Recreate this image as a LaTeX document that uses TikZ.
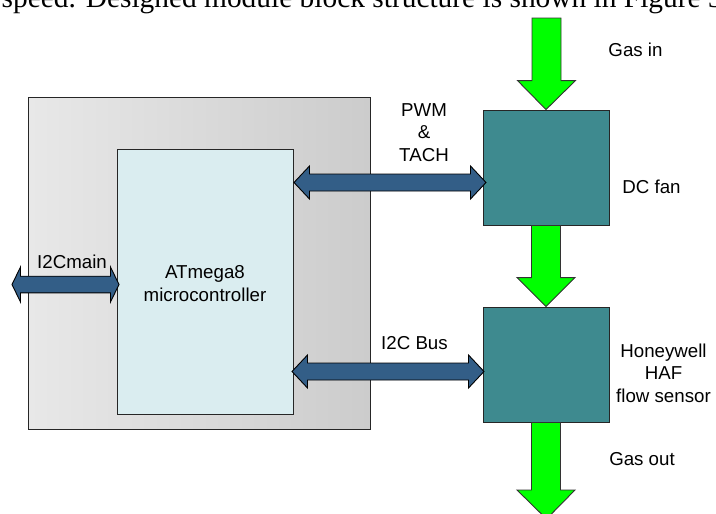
\documentclass[tikz,border=0pt]{standalone}
\usepackage{fontspec}
\setmainfont{Liberation Serif}
\newfontfamily\labelfont{Liberation Sans}
\usetikzlibrary{calc}
\definecolor{modgrayL}{RGB}{232,232,232}
\definecolor{modgrayR}{RGB}{204,204,204}
\definecolor{mcufill}{RGB}{218,237,240}
\definecolor{tealfill}{RGB}{62,138,143}
\definecolor{busblue}{RGB}{51,94,135}
\definecolor{gasgreen}{RGB}{0,255,0}
\tikzset{
  box/.style={draw=black!85, line width=0.9pt, inner sep=0pt, minimum width=#1},
  lbl/.style={font=\labelfont\fontsize{18.7}{22.5}\selectfont, align=center, inner sep=0pt},
  busarrow/.style={draw=black, line width=0.9pt, fill=busblue, line join=miter},
  gasarrow/.style={draw=black!80, line width=0.9pt, fill=gasgreen, line join=miter},
}
% double block arrow: #1 left tip, #2 right tip, #3 head length, #4 half head, #5 half shaft
\newcommand{\dblblock}[5]{%
  \draw[busarrow] let \p1=(#1), \p2=(#2) in
    (\x1,\y1) -- (\x1+#3,\y1+#4) -- (\x1+#3,\y1+#5) -- (\x2-#3,\y2+#5) -- (\x2-#3,\y2+#4)
    -- (\x2,\y2) -- (\x2-#3,\y2-#4) -- (\x2-#3,\y2-#5) -- (\x1+#3,\y1-#5) -- (\x1+#3,\y1-#4) -- cycle;}
% down block arrow: #1 shaft top centre, #2 tip
\newcommand{\downblock}[2]{%
  \draw[gasarrow] let \p1=(#1), \p2=(#2) in
    (\x1-14.5pt,\y1) -- (\x1+14.5pt,\y1) -- (\x1+14.5pt,\y2+29pt) -- (\x1+29pt,\y2+29pt)
    -- (\x2,\y2) -- (\x1-29pt,\y2+29pt) -- (\x1-14.5pt,\y2+29pt) -- cycle;}
\begin{document}
\begin{tikzpicture}[x=1pt,y=-1pt]
\useasboundingbox (0,0) rectangle (716,514);
\clip (0,0) rectangle (716,514);

\node[anchor=base west, inner sep=0pt, font=\fontsize{29.4}{32}\selectfont] (caption) at (1.5,7.5)
  {speed. Designed module block structure is shown in Figure 3};

% blocks
\node[box=342pt, minimum height=332pt, left color=modgrayL, right color=modgrayR] (module) at (199,263) {};
\node[box=176pt, minimum height=265pt, fill=mcufill] (mcu) at (205,281.5) {};
\node[box=126pt, minimum height=115pt, fill=tealfill] (fan) at (546,167.5) {};
\node[box=126pt, minimum height=115pt, fill=tealfill] (sensor) at (546,364.5) {};

\node[lbl] (mcutext) at (205,283.5) {ATmega8\\microcontroller};

% gas flow
\coordinate (gasintop) at (546.5,18);
\coordinate (gasouttip) at (546.5,519);
\downblock{gasintop}{fan.north}
\downblock{fan.south}{sensor.north}
\downblock{sensor.south}{gasouttip}

% buses
\coordinate (pwmL) at (294,182.5);
\coordinate (pwmR) at (486,182.5);
\coordinate (busL) at (292,371.5);
\coordinate (busR) at (484,371.5);
\coordinate (mainL) at (12,284.5);
\coordinate (mainR) at (119,284.5);
\dblblock{pwmL}{pwmR}{15.5pt}{16.5pt}{8.5pt}
\dblblock{busL}{busR}{15.5pt}{16.5pt}{8.5pt}
\dblblock{mainL}{mainR}{8.5pt}{17.5pt}{8.3pt}

% labels
\node[lbl] (gasin) at (635.5,50) {Gas in};
\node[lbl] (fanlbl) at (651.5,187) {DC fan};
\node[lbl] (senslbl) at (663.5,373) {Honeywell\\HAF\\flow sensor};
\node[lbl] (gasout) at (642,459) {Gas out};
\node[lbl] (pwmlbl) at (424,132.5) {PWM\\\&\\TACH};
\node[lbl] (buslbl) at (414.5,343) {I2C Bus};
\node[lbl] (mainlbl) at (72,262) {I2Cmain};
\end{tikzpicture}
\end{document}
